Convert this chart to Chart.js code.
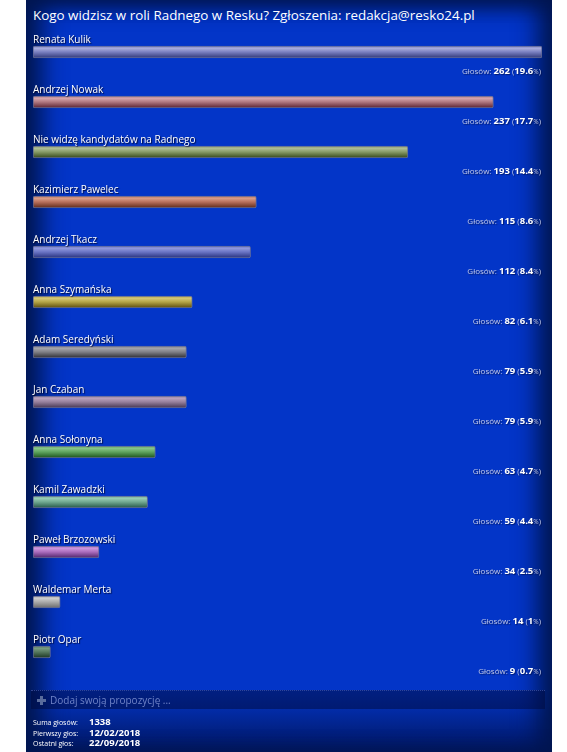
<!DOCTYPE html>
<html>
<head>
<meta charset="utf-8">
<script src="https://cdn.jsdelivr.net/npm/chart.js@4.4.1/dist/chart.umd.min.js"></script>
<style>
  html,body{margin:0;padding:0;background:#fff;width:567px;height:752px;overflow:hidden;font-family:"Open Sans",sans-serif;}
  #panel{position:absolute;left:26px;top:0;width:526px;height:752px;
    background:
      linear-gradient(to bottom, rgba(0,10,60,0) 0px, rgba(0,10,60,0) 690px, rgba(0,15,70,0.8) 752px),
      #0335c8;
    box-shadow: inset 22px 0 24px -6px #001650, inset -20px 0 24px -6px #001650, inset 0 16px 20px -8px #001c62;}
  #title{position:absolute;left:33px;top:6px;color:#fff;font-size:13.4px;white-space:nowrap;}
  #wrap{position:absolute;left:0;top:0;width:567px;height:752px;}
  #add{position:absolute;left:31px;top:690px;width:514px;height:18px;background:rgba(0,10,60,0.5);
    border-top:1px dotted rgba(60,80,160,0.8);color:#6f84c8;font-size:10px;line-height:18px;}
  #add .plus{display:inline-block;position:relative;width:9px;height:9px;margin-left:6px;margin-right:4px;vertical-align:-1px;}
  #add .plus:before{content:"";position:absolute;left:3px;top:0;width:3px;height:9px;background:#5a6c9c;}
  #add .plus:after{content:"";position:absolute;left:0;top:3px;width:9px;height:3px;background:#5a6c9c;}
  #foot{position:absolute;left:33px;top:717px;color:#fff;font-size:7px;}
  #foot .row{height:10.7px;line-height:10px;white-space:nowrap;}
  #foot .k{display:inline-block;width:56px;}
  #foot .v{font-size:9.5px;font-weight:bold;}
</style>
</head>
<body>
<div id="panel"></div>
<div id="title">Kogo widzisz w roli Radnego w Resku? Zgłoszenia: redakcja@resko24.pl</div>
<div id="wrap"><canvas id="c" width="567" height="752"></canvas></div>
<div id="add"><span class="plus"></span>Dodaj swoją propozycję ...</div>
<div id="foot">
  <div class="row"><span class="k">Suma głosów:</span><span class="v" id="sum"></span></div>
  <div class="row"><span class="k">Pierwszy głos:</span><span class="v" id="first"></span></div>
  <div class="row"><span class="k">Ostatni głos:</span><span class="v" id="last"></span></div>
</div>
<script>
const categories = [
  "Renata Kulik",
  "Andrzej Nowak",
  "Nie widzę kandydatów na Radnego",
  "Kazimierz Pawelec",
  "Andrzej Tkacz",
  "Anna Szymańska",
  "Adam Seredyński",
  "Jan Czaban",
  "Anna Sołonyna",
  "Kamil Zawadzki",
  "Paweł Brzozowski",
  "Waldemar Merta",
  "Piotr Opar"
];
const votes = [262, 237, 193, 115, 112, 82, 79, 79, 63, 59, 34, 14, 9];
const percents = ["19.6", "17.7", "14.4", "8.6", "8.4", "6.1", "5.9", "5.9", "4.7", "4.4", "2.5", "1", "0.7"];
const totalVotes = "1338";
const firstVote = "12/02/2018";
const lastVote = "22/09/2018";

// glossy bar colours: light top band, mid body, dark bottom edge
const barLight = ["#a8acdc","#d4a4ac","#aebc96","#d89c88","#9098dc","#d4c676","#a4a4aa","#b8a0bc","#88c488","#98ccb4","#cc96dc","#cccccc","#789a80"];
const barMid   = ["#7a80c0","#b07880","#869a66","#b8705c","#6a74c4","#b4a446","#808086","#96809c","#5ea45e","#70a890","#aa6cbc","#aaaaaa","#56785e"];
const barDark  = ["#303878","#582030","#344618","#5c2818","#26307c","#5a4a0c","#2c2c32","#443450","#1a501a","#245646","#4e2268","#6a6a6a","#1a3420"];

document.getElementById('sum').textContent = totalVotes;
document.getElementById('first').textContent = firstVote;
document.getElementById('last').textContent = lastVote;

const BAR_H = 12;

function barGradient(context) {
  const chart = context.chart;
  const i = context.dataIndex;
  const ys = chart.scales && chart.scales.y;
  if (!ys || i === undefined) return barMid[0];
  const yc = ys.getPixelForValue(i);
  if (!isFinite(yc)) return barMid[i];
  const g = chart.ctx.createLinearGradient(0, yc - BAR_H/2, 0, yc + BAR_H/2);
  g.addColorStop(0, barMid[i]);
  g.addColorStop(0.2, barLight[i]);
  g.addColorStop(0.5, barMid[i]);
  g.addColorStop(1, barDark[i]);
  return g;
}

const labelPlugin = {
  id: 'pollLabels',
  afterDatasetsDraw(chart) {
    const ctx = chart.ctx;
    const ys = chart.scales.y;
    const area = chart.chartArea;
    ctx.save();
    categories.forEach((name, i) => {
      const y = ys.getPixelForValue(i);
      ctx.shadowColor = 'rgba(0,0,30,0.8)';
      ctx.shadowOffsetX = 1; ctx.shadowOffsetY = 1; ctx.shadowBlur = 1;
      ctx.font = '10px "Open Sans"';
      ctx.fillStyle = '#ffffff';
      ctx.textAlign = 'left';
      ctx.textBaseline = 'middle';
      ctx.fillText(name, area.left, y - 12);
      ctx.shadowColor = 'rgba(0,0,30,0.5)';
      const segs = [
        {t: 'Głosów: ', f: '8px "Open Sans"', c: '#c0c8e8'},
        {t: String(votes[i]), f: 'bold 9.5px "Open Sans"', c: '#ffffff'},
        {t: ' (', f: '8px "Open Sans"', c: '#c0c8e8'},
        {t: percents[i], f: 'bold 9.5px "Open Sans"', c: '#ffffff'},
        {t: '%', f: '6.5px "Open Sans"', c: '#c0c8e8'},
        {t: ')', f: '8px "Open Sans"', c: '#c0c8e8'}
      ];
      let x = area.right - 1;
      const yy = y + 22;
      ctx.textAlign = 'right';
      ctx.textBaseline = 'alphabetic';
      for (let k = segs.length - 1; k >= 0; k--) {
        ctx.font = segs[k].f;
        ctx.fillStyle = segs[k].c;
        ctx.fillText(segs[k].t, x, yy);
        x -= ctx.measureText(segs[k].t).width;
      }
    });
    ctx.restore();
  }
};

new Chart(document.getElementById('c'), {
  type: 'bar',
  data: {
    labels: categories,
    datasets: [{
      data: votes,
      backgroundColor: barGradient,
      borderColor: 'rgba(110,115,150,0.85)',
      borderWidth: 1,
      borderRadius: 2,
      borderSkipped: false,
      barThickness: BAR_H
    }]
  },
  options: {
    indexAxis: 'y',
    responsive: false,
    animation: false,
    layout: {padding: {left: 33, right: 25, top: 27, bottom: 75}},
    plugins: {legend: {display: false}, tooltip: {enabled: false}, title: {display: false}},
    scales: {
      x: {display: false, min: 0, max: 262},
      y: {display: false}
    }
  },
  plugins: [labelPlugin]
});
</script>
</body>
</html>
